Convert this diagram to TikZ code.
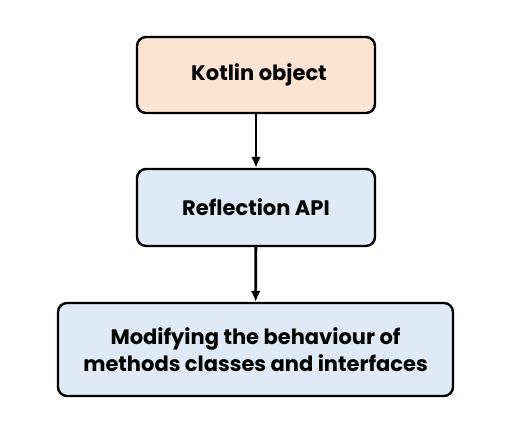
\documentclass[tikz,border=0pt]{standalone}
\usepackage{fontspec}
\setmainfont{Poppins}
\usetikzlibrary{arrows.meta}
\definecolor{peach}{HTML}{FCE4D5}
\definecolor{paleblue}{HTML}{DEEAF6}

\begin{document}
\begin{tikzpicture}[x=1pt,y=-1pt,
    box/.style={rectangle,draw,line width=2.4pt,rounded corners=9pt,
        font=\bfseries\fontsize{21}{27}\selectfont,align=center,inner sep=0pt},
    link/.style={-{Latex[length=11pt,width=10pt]},line width=2.8pt}]
    \useasboundingbox (0,0) rectangle (512,421);
    % nodes
    \node (kotlin) at (256,75) [box,fill=peach,minimum width=238pt,minimum height=76pt] {\hspace*{6pt}Kotlin object};
    \node (reflect) at (256,207.5) [box,fill=paleblue,minimum width=238pt,minimum height=77pt] {Reflection API};
    \node (modify) at (255.5,349.5) [box,fill=paleblue,minimum width=395pt,minimum height=93pt] {Modifying the behaviour of\\methods classes and interfaces};

    % paths
    \draw[link] (kotlin) to (reflect); % Kotlin -> Reflection
    \draw[link] (reflect) to (modify); % Reflection -> Modifying
\end{tikzpicture}
\end{document}
